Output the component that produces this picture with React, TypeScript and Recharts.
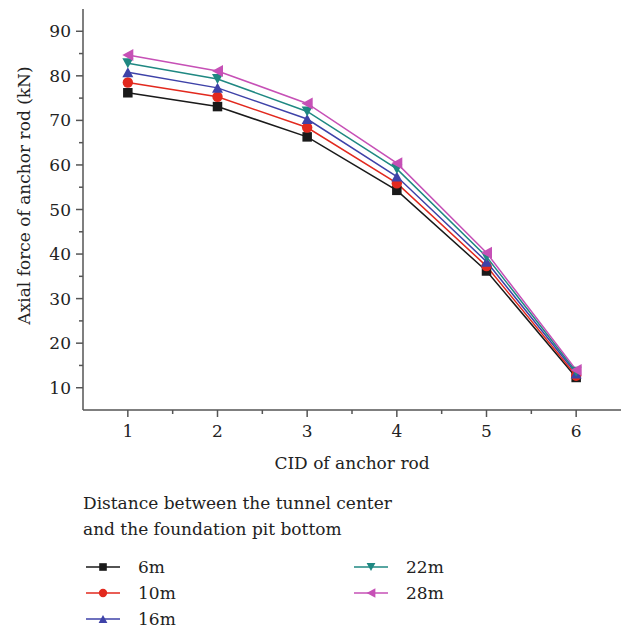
import React from "react";
import { LineChart, Line, XAxis, YAxis, Label } from "recharts";

const categories = [1, 2, 3, 4, 5, 6];
const s6m = [76.2, 73.1, 66.3, 54.3, 36.2, 12.3];
const s10m = [78.5, 75.3, 68.4, 55.9, 37.3, 12.7];
const s16m = [80.8, 77.3, 70.3, 57.4, 38.3, 13.2];
const s22m = [82.8, 79.3, 72.0, 59.1, 39.4, 13.6];
const s28m = [84.7, 81.1, 73.8, 60.4, 40.3, 14.0];

const xTicks = [1, 1.5, 2, 2.5, 3, 3.5, 4, 4.5, 5, 5.5, 6];
const yTicks = [10, 15, 20, 25, 30, 35, 40, 45, 50, 55, 60, 65, 70, 75, 80, 85, 90];

const legendTitle = ["Distance between the tunnel center", "and the foundation pit bottom"];

const series = [
  { key: "s6m", name: "6m", color: "#1a1a1a", shape: "square", values: s6m },
  { key: "s10m", name: "10m", color: "#e2291e", shape: "circle", values: s10m },
  { key: "s16m", name: "16m", color: "#3e42a8", shape: "up", values: s16m },
  { key: "s22m", name: "22m", color: "#1f8882", shape: "down", values: s22m },
  { key: "s28m", name: "28m", color: "#c650b6", shape: "left", values: s28m },
];

const data = categories.map((c, i) => {
  const row: any = { x: c };
  series.forEach((s) => (row[s.key] = s.values[i]));
  return row;
});

const FONT = "'DejaVu Serif', 'Liberation Serif', serif";
const AXIS = "#555";
const TEXT = "#222";

function Marker({ cx, cy, shape, color, scale = 1 }: any) {
  if (cx == null || cy == null) return null;
  const k = scale;
  if (shape === "square") {
    const s = 9.5 * k;
    return <rect x={cx - s / 2} y={cy - s / 2} width={s} height={s} fill={color} />;
  }
  if (shape === "circle") {
    return <circle cx={cx} cy={cy} r={5.2 * k} fill={color} />;
  }
  if (shape === "up") {
    const w = 5.5 * k, h = 5 * k;
    return <polygon points={`${cx},${cy - h} ${cx + w},${cy + h} ${cx - w},${cy + h}`} fill={color} />;
  }
  if (shape === "down") {
    const w = 5.5 * k, h = 5 * k;
    return <polygon points={`${cx - w},${cy - h} ${cx + w},${cy - h} ${cx},${cy + h}`} fill={color} />;
  }
  const w = 5.5 * k, h = 6 * k;
  return <polygon points={`${cx - w},${cy} ${cx + w},${cy - h} ${cx + w},${cy + h}`} fill={color} />;
}

function XTick({ x, y, payload }: any) {
  const major = Number.isInteger(payload.value);
  return (
    <g>
      <line x1={x} y1={y} x2={x} y2={y + (major ? 7 : 4)} stroke={AXIS} strokeWidth={1.5} />
      {major && (
        <text x={x} y={y + 27} textAnchor="middle" fontFamily={FONT} fontSize={17} fill={TEXT}>
          {payload.value}
        </text>
      )}
    </g>
  );
}

function YTick({ x, y, payload }: any) {
  const major = payload.value % 10 === 0;
  return (
    <g>
      <line x1={x - (major ? 7 : 4)} y1={y} x2={x} y2={y} stroke={AXIS} strokeWidth={1.5} />
      {major && (
        <text x={x - 12} y={y + 6} textAnchor="end" fontFamily={FONT} fontSize={17} fill={TEXT}>
          {payload.value}
        </text>
      )}
    </g>
  );
}

function LegendBlock() {
  const col1 = series.slice(0, 3);
  const col2 = series.slice(3);
  const item = (s: any, left: number, top: number) => (
    <div key={s.key} style={{ position: "absolute", left, top, height: 26, display: "flex", alignItems: "center" }}>
      <svg width={36} height={16} style={{ display: "block" }}>
        <line x1={1} y1={8} x2={35} y2={8} stroke={s.color} strokeWidth={1.5} />
        <Marker cx={18} cy={8} shape={s.shape} color={s.color} scale={0.8} />
      </svg>
      <span style={{ marginLeft: 17, fontFamily: FONT, fontSize: 17, color: TEXT, lineHeight: "26px" }}>{s.name}</span>
    </div>
  );
  return (
    <div style={{ position: "absolute", left: 0, top: 0, width: 621, height: 631, pointerEvents: "none" }}>
      <div style={{ position: "absolute", left: 83, top: 490, fontFamily: FONT, fontSize: 17, color: TEXT, lineHeight: "26px" }}>
        {legendTitle.map((t) => (
          <div key={t}>{t}</div>
        ))}
      </div>
      {col1.map((s, i) => item(s, 85, 554 + i * 26))}
      {col2.map((s, i) => item(s, 353, 554 + i * 26))}
    </div>
  );
}

export default function App() {
  return (
    <div style={{ position: "absolute", left: 0, top: 0, width: 621, height: 631, background: "#fff" }}>
      <LineChart width={621} height={631} data={data} margin={{ top: 9, right: 0, bottom: 0, left: 0 }}>
        <XAxis
          dataKey="x"
          type="number"
          domain={[0.5, 6.5]}
          ticks={xTicks}
          interval={0}
          height={221}
          tickSize={0}
          tickMargin={0}
          tickLine={false}
          tick={<XTick />}
          axisLine={{ stroke: AXIS, strokeWidth: 1.5 }}
          allowDataOverflow
        >
          <Label
            content={({ viewBox }: any) => (
              <text
                x={viewBox.x + viewBox.width / 2}
                y={viewBox.y + 59}
                textAnchor="middle"
                fontFamily={FONT}
                fontSize={17}
                fill={TEXT}
              >
                CID of anchor rod
              </text>
            )}
          />
        </XAxis>
        <YAxis
          type="number"
          domain={[5, 95]}
          ticks={yTicks}
          interval={0}
          width={83}
          tickSize={0}
          tickMargin={0}
          tickLine={false}
          tick={<YTick />}
          axisLine={{ stroke: AXIS, strokeWidth: 1.5 }}
          allowDataOverflow
        >
          <Label
            content={({ viewBox }: any) => {
              const cx = viewBox.x + 30;
              const cy = viewBox.y + viewBox.height / 2 - 14;
              return (
                <text
                  x={cx}
                  y={cy}
                  transform={`rotate(-90, ${cx}, ${cy})`}
                  textAnchor="middle"
                  fontFamily={FONT}
                  fontSize={17}
                  fill={TEXT}
                >
                  Axial force of anchor rod (kN)
                </text>
              );
            }}
          />
        </YAxis>
        {series.map((s) => (
          <Line
            key={s.key}
            dataKey={s.key}
            name={s.name}
            stroke={s.color}
            strokeWidth={1.5}
            isAnimationActive={false}
            dot={(p: any) => <Marker key={`${s.key}-${p.index}`} cx={p.cx} cy={p.cy} shape={s.shape} color={s.color} />}
            activeDot={false}
          />
        ))}
      </LineChart>
      <LegendBlock />
    </div>
  );
}
